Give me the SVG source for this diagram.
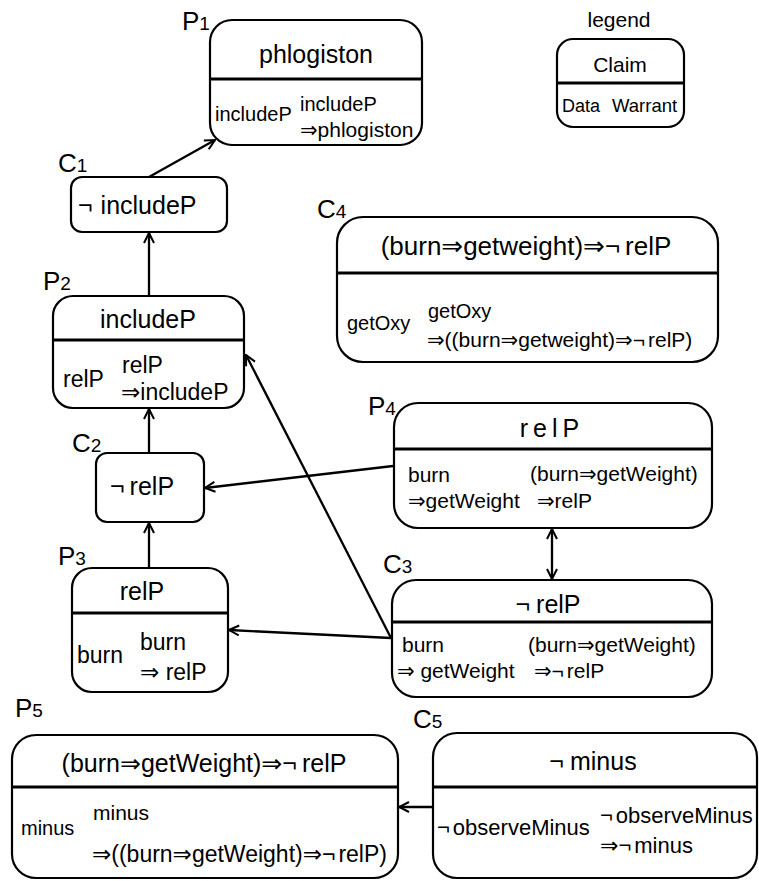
<svg xmlns="http://www.w3.org/2000/svg" width="759" height="881" viewBox="0 0 759 881">
<style>
text{font-family:"Liberation Sans","DejaVu Sans","Noto Sans CJK JP",sans-serif;fill:#000}
.box{fill:#fff;stroke:#000;stroke-width:2.2}
.div{stroke:#000;stroke-width:3.2}
.t{font-size:25px;text-anchor:middle}
.ts{font-size:25px}
.b{font-size:20px}
.b1{font-size:21px}
.b22{font-size:22px}
.b2{font-size:23px}
.lb{font-size:26px}
.lb tspan{font-size:19px}
.edge{stroke:#000;stroke-width:2.3;fill:none}
</style>
<defs>
<marker id="ah" viewBox="0 0 12 12" refX="11" refY="6" markerWidth="12" markerHeight="12" markerUnits="userSpaceOnUse" orient="auto-start-reverse">
<path d="M1,1 L11,6 L1,11" fill="none" stroke="#000" stroke-width="2"/>
</marker>
</defs>

<g id="connectors">
<line class="edge" x1="149" y1="177" x2="215" y2="140" marker-end="url(#ah)"/>
<line class="edge" x1="149" y1="296" x2="149" y2="233" marker-end="url(#ah)"/>
<line class="edge" x1="149" y1="453" x2="149" y2="409" marker-end="url(#ah)"/>
<line class="edge" x1="149" y1="568" x2="149" y2="523" marker-end="url(#ah)"/>
<line class="edge" x1="393" y1="466" x2="205" y2="488" marker-end="url(#ah)"/>
<line class="edge" x1="391" y1="638" x2="246" y2="355" marker-end="url(#ah)"/>
<line class="edge" x1="391" y1="638" x2="229" y2="630" marker-end="url(#ah)"/>
<line class="edge" x1="552" y1="529" x2="552" y2="579" marker-start="url(#ah)" marker-end="url(#ah)"/>
<line class="edge" x1="433" y1="807" x2="399" y2="807" marker-end="url(#ah)"/>
</g>

<g id="legend">
<text x="619" y="27" font-size="21" text-anchor="middle">legend</text>
<rect class="box" x="557" y="39" width="127" height="88" rx="16"/>
<line class="div" x1="557" y1="83" x2="684" y2="83"/>
<text x="620" y="72" font-size="21" text-anchor="middle">Claim</text>
<text x="562" y="112" font-size="18">Data</text>
<text x="612" y="112" font-size="18.5">Warrant</text>
</g>

<g id="P1">
<text class="lb" x="182" y="30">P<tspan>1</tspan></text>
<rect class="box" x="210" y="20" width="212" height="125" rx="22"/>
<line class="div" x1="210" y1="79" x2="422" y2="79"/>
<text class="t" x="316" y="63">phlogiston</text>
<text class="b" x="215" y="121">includeP</text>
<text class="b" x="300" y="111">includeP</text>
<text class="b1" x="300" y="137">⇒phlogiston</text>
</g>

<g id="C1">
<text class="lb" x="58" y="172">C<tspan>1</tspan></text>
<rect class="box" x="71" y="177" width="156" height="55" rx="11"/>
<text class="ts" x="78" y="214">¬<tspan dx="8">includeP</tspan></text>
</g>

<g id="P2">
<text class="lb" x="43" y="290">P<tspan>2</tspan></text>
<rect class="box" x="53" y="296" width="191" height="112" rx="20"/>
<line class="div" x1="53" y1="340" x2="244" y2="340"/>
<text class="t" x="148" y="328">includeP</text>
<text class="b2" x="63" y="387">relP</text>
<text class="b2" x="122" y="373">relP</text>
<text class="b2" x="121" y="400">⇒includeP</text>
</g>

<g id="C2">
<text class="lb" x="72" y="452">C<tspan>2</tspan></text>
<rect class="box" x="96" y="453" width="108" height="69" rx="11"/>
<text class="ts" x="110" y="495">¬<tspan dx="5">relP</tspan></text>
</g>

<g id="P3">
<text class="lb" x="58" y="565">P<tspan>3</tspan></text>
<rect class="box" x="72" y="568" width="156" height="124" rx="20"/>
<line class="div" x1="72" y1="613" x2="228" y2="613"/>
<text class="t" x="142" y="600">relP</text>
<text class="b2" x="77" y="663">burn</text>
<text class="b2" x="140" y="650">burn</text>
<text class="b2" x="140" y="680">⇒ relP</text>
</g>

<g id="C4">
<text class="lb" x="317" y="218">C<tspan>4</tspan></text>
<rect class="box" x="337" y="217" width="381" height="145" rx="26"/>
<line class="div" x1="337" y1="273" x2="718" y2="273"/>
<text class="t" x="526" y="255" style="font-size:26px">(burn⇒getweight)⇒¬<tspan dx="5">relP</tspan></text>
<text class="b" x="347" y="330">getOxy</text>
<text class="b" x="428" y="318">getOxy</text>
<text class="b1" x="427" y="347">⇒((burn⇒getweight)⇒¬<tspan dx="3">relP)</tspan></text>
</g>

<g id="P4">
<text class="lb" x="368" y="415">P<tspan>4</tspan></text>
<rect class="box" x="394" y="403" width="318" height="125" rx="24"/>
<line class="div" x1="394" y1="449" x2="712" y2="449"/>
<text class="t" x="552" y="437" letter-spacing="5">relP</text>
<text class="b1" x="408" y="482">burn</text>
<text class="b1" x="408" y="508">⇒getWeight</text>
<text class="b1" x="530" y="481">(burn⇒getWeight)</text>
<text class="b1" x="537" y="508">⇒relP</text>
</g>

<g id="C3">
<text class="lb" x="383" y="573">C<tspan>3</tspan></text>
<rect class="box" x="392" y="580" width="320" height="117" rx="24"/>
<line class="div" x1="392" y1="622" x2="712" y2="622"/>
<text class="t" x="548" y="613">¬<tspan dx="6">relP</tspan></text>
<text class="b1" x="402" y="652">burn</text>
<text class="b1" x="397" y="678">⇒ getWeight</text>
<text class="b1" x="528" y="652">(burn⇒getWeight)</text>
<text class="b1" x="534" y="678">⇒¬<tspan dx="3">relP</tspan></text>
</g>

<g id="P5">
<text class="lb" x="15" y="717">P<tspan>5</tspan></text>
<rect class="box" x="12" y="735" width="386" height="143" rx="24"/>
<line class="div" x1="12" y1="787" x2="398" y2="787"/>
<text class="t" x="204" y="772" style="font-size:25px">(burn⇒getWeight)⇒¬<tspan dx="5">relP</tspan></text>
<text class="b" x="21" y="835">minus</text>
<text class="b1" x="93" y="820">minus</text>
<text class="b2" x="92" y="862">⇒((burn⇒getWeight)⇒¬<tspan dx="3">relP)</tspan></text>
</g>

<g id="C5">
<text class="lb" x="413" y="728">C<tspan>5</tspan></text>
<rect class="box" x="433" y="733" width="324" height="145" rx="24"/>
<line class="div" x1="433" y1="787" x2="757" y2="787"/>
<text class="t" x="593" y="770">¬<tspan dx="6">minus</tspan></text>
<text class="b22" x="437" y="835">¬<tspan dx="3">observeMinus</tspan></text>
<text class="b22" x="600" y="823">¬<tspan dx="3">observeMinus</tspan></text>
<text class="b22" x="600" y="853">⇒¬<tspan dx="3">minus</tspan></text>
</g>
</svg>
